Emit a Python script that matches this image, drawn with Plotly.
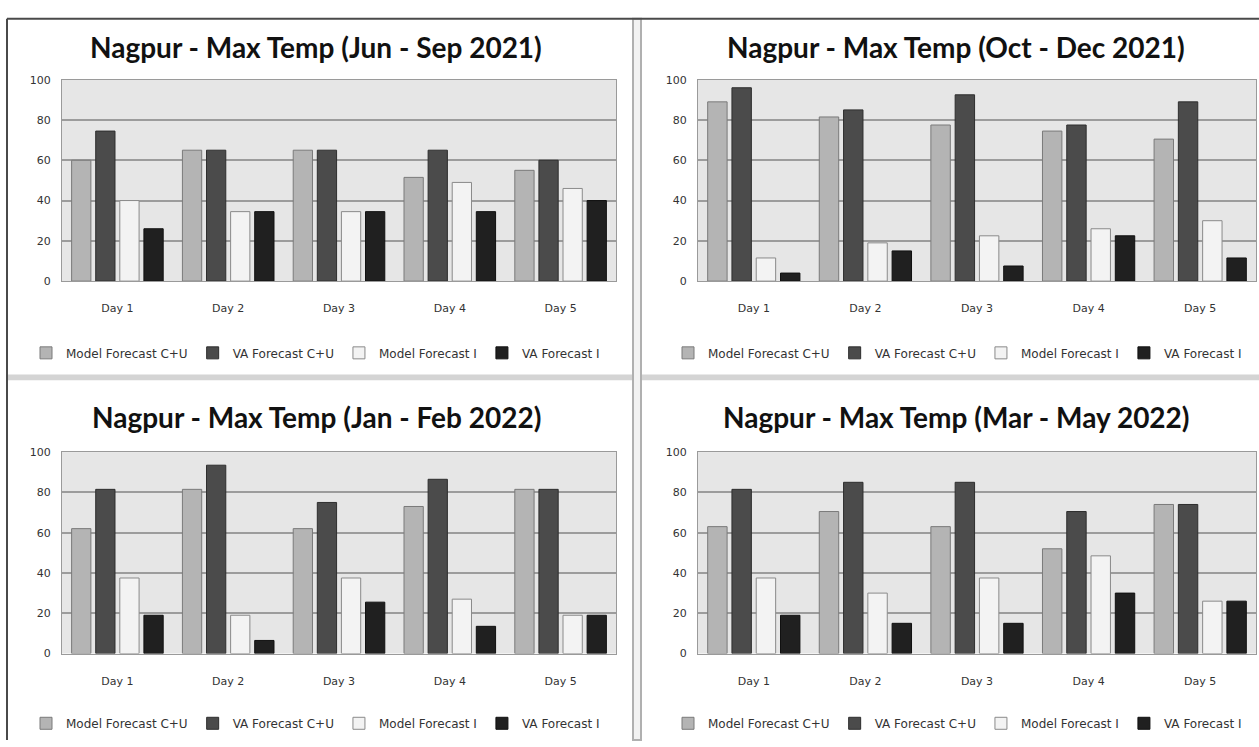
import plotly.graph_objects as go

W, H = 1259, 747

days = ["Day 1", "Day 2", "Day 3", "Day 4", "Day 5"]
series_names = ["Model Forecast C+U", "VA Forecast C+U", "Model Forecast I", "VA Forecast I"]
y_ticks = [0, 20, 40, 60, 80, 100]

titles = [
    "Nagpur - Max Temp (Jun - Sep 2021)",
    "Nagpur - Max Temp (Oct - Dec 2021)",
    "Nagpur - Max Temp (Jan - Feb 2022)",
    "Nagpur - Max Temp (Mar - May 2022)",
]

# Jun - Sep 2021
jun_sep_model_cu = [60, 65, 65, 51.5, 55]
jun_sep_va_cu = [74.5, 65, 65, 65, 60]
jun_sep_model_i = [40, 34.5, 34.5, 49, 46]
jun_sep_va_i = [26, 34.5, 34.5, 34.5, 40]

# Oct - Dec 2021
oct_dec_model_cu = [89, 81.5, 77.5, 74.5, 70.5]
oct_dec_va_cu = [96, 85, 92.5, 77.5, 89]
oct_dec_model_i = [11.5, 19, 22.5, 26, 30]
oct_dec_va_i = [4, 15, 7.5, 22.5, 11.5]

# Jan - Feb 2022
jan_feb_model_cu = [62, 81.5, 62, 73, 81.5]
jan_feb_va_cu = [81.5, 93.5, 75, 86.5, 81.5]
jan_feb_model_i = [37.5, 19, 37.5, 27, 19]
jan_feb_va_i = [19, 6.5, 25.5, 13.5, 19]

# Mar - May 2022
mar_may_model_cu = [63, 70.5, 63, 52, 74]
mar_may_va_cu = [81.5, 85, 85, 70.5, 74]
mar_may_model_i = [37.5, 30, 37.5, 48.5, 26]
mar_may_va_i = [19, 15, 15, 30, 26]

panels = [
    [jun_sep_model_cu, jun_sep_va_cu, jun_sep_model_i, jun_sep_va_i],
    [oct_dec_model_cu, oct_dec_va_cu, oct_dec_model_i, oct_dec_va_i],
    [jan_feb_model_cu, jan_feb_va_cu, jan_feb_model_i, jan_feb_va_i],
    [mar_may_model_cu, mar_may_va_cu, mar_may_model_i, mar_may_va_i],
]

fills = ["#b4b4b4", "#4b4b4b", "#f3f3f3", "#202020"]
outlines = ["#7a7a7a", "#2e2e2e", "#8a8a8a", "#101010"]


def px_x(v):
    return v / W


def px_y(v):
    return 1 - v / H


# plot-area boxes in pixels: (left, right, top, bottom)
boxes = [(62, 616, 75, 280), (698, 1256, 75, 280), (62, 616, 454, 659), (698, 1256, 454, 659)]
title_pos = [(316, 42), (956, 42), (316, 418), (956, 418)]
legend_pos = [(26, 353), (668, 353), (26, 730), (668, 730)]

TICK_FONT = dict(family="DejaVu Sans", size=11, color="#333333")

fig = go.Figure()
layout = dict(
    width=W, height=H, margin=dict(l=0, r=0, t=0, b=0),
    paper_bgcolor="white", plot_bgcolor="#e6e6e6",
    barmode="group", bargap=0.13, bargroupgap=0.2,
    showlegend=True, annotations=[], shapes=[],
)

for p, values in enumerate(panels):
    n = "" if p == 0 else str(p + 1)
    xa, ya = "x" + n, "y" + n
    leg = "legend" + n
    for s, vals in enumerate(values):
        fig.add_trace(go.Bar(
            x=days, y=vals, name=series_names[s],
            marker=dict(color=fills[s], line=dict(color=outlines[s], width=1)),
            xaxis=xa, yaxis=ya, legend=leg,
        ))
    l, r, t, b = boxes[p]
    layout["xaxis" + n] = dict(
        domain=[px_x(l), px_x(r)], anchor=ya, tickfont=TICK_FONT,
        showline=True, linecolor="#9a9a9a", linewidth=1, mirror=True,
        ticks="outside", ticklen=17, tickcolor="rgba(0,0,0,0)",
        showgrid=False, fixedrange=True,
    )
    layout["yaxis" + n] = dict(
        domain=[px_y(b), px_y(t)], anchor=xa, range=[0, 100],
        tickvals=y_ticks, tickfont=TICK_FONT,
        showgrid=True, gridcolor="#9c9c9c", gridwidth=2,
        showline=True, linecolor="#9a9a9a", linewidth=1, mirror=True,
        ticks="outside", ticklen=8, tickcolor="rgba(0,0,0,0)",
        zeroline=False, fixedrange=True,
    )
    lx, ly = legend_pos[p]
    layout[leg] = dict(
        orientation="h", x=px_x(lx), y=px_y(ly), xanchor="left", yanchor="middle",
        xref="paper", yref="paper",
        font=dict(family="DejaVu Sans", size=12, color="#333333"),
        bgcolor="rgba(0,0,0,0)", itemwidth=30, traceorder="normal",
    )
    tx, ty = title_pos[p]
    layout["annotations"].append(dict(
        text="<b>" + titles[p] + "</b>", x=px_x(tx), y=px_y(ty),
        xref="paper", yref="paper", showarrow=False,
        xanchor="center", yanchor="middle",
        font=dict(family="Lato", size=28, color="#111111"),
    ))

# outer frame and panel dividers
shapes = layout["shapes"]
shapes.append(dict(type="rect", xref="paper", yref="paper",
                   x0=px_x(7), x1=px_x(1259), y0=px_y(381), y1=px_y(375),
                   fillcolor="#d4d4d4", line=dict(width=0)))
shapes.append(dict(type="rect", xref="paper", yref="paper",
                   x0=px_x(633), x1=px_x(641), y0=px_y(747), y1=px_y(13),
                   fillcolor="#f2f2f2", line=dict(color="#b0b0b0", width=2)))
shapes.append(dict(type="line", xref="paper", yref="paper",
                   x0=px_x(7), x1=px_x(1259), y0=px_y(13), y1=px_y(13),
                   line=dict(color="#4a4a4a", width=2)))
shapes.append(dict(type="line", xref="paper", yref="paper",
                   x0=px_x(7), x1=px_x(7), y0=px_y(13), y1=px_y(747),
                   line=dict(color="#4a4a4a", width=2)))

fig.update_layout(**layout)
fig.write_html("out.html")
